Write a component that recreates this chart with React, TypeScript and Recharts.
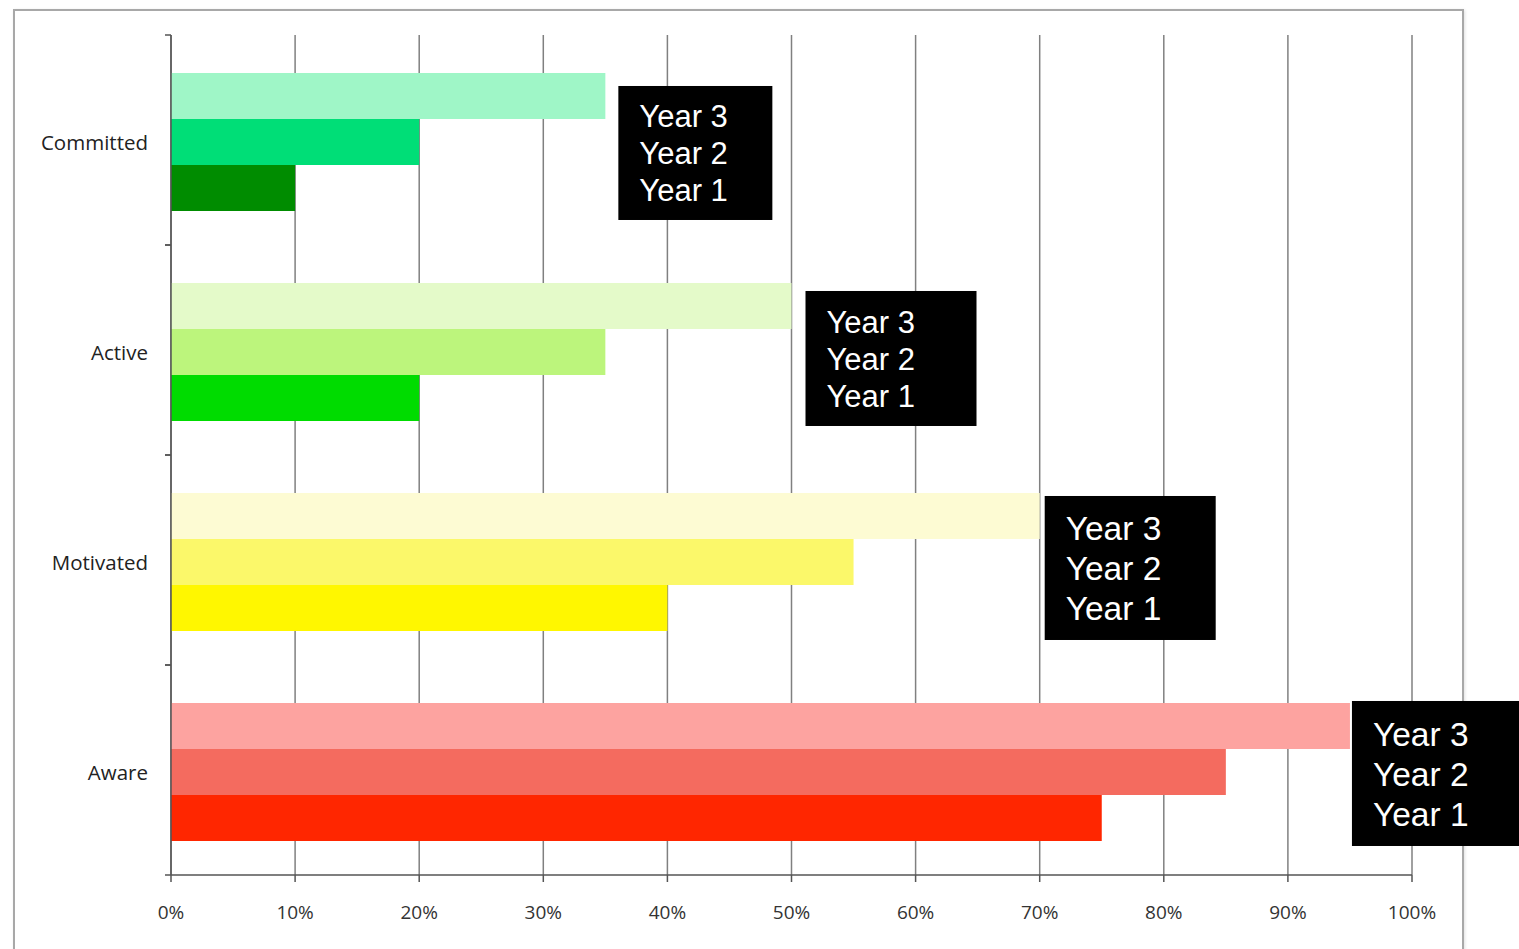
import React from "react";
import {
  Bar,
  BarChart,
  CartesianGrid,
  Cell,
  LabelList,
  Rectangle,
  XAxis,
  YAxis,
} from "recharts";

// chart data
const categories = ["Committed", "Active", "Motivated", "Aware"];
const year3 = [35, 50, 70, 95];
const year2 = [20, 35, 55, 85];
const year1 = [10, 20, 40, 75];
const legendLines = ["Year 3", "Year 2", "Year 1"];
const xTicks = [0, 10, 20, 30, 40, 50, 60, 70, 80, 90, 100];

// colours per category, one list per series
const year3Colors = ["#9ff6c7", "#e4fac9", "#fdfbd3", "#fda3a0"];
const year2Colors = ["#00de77", "#bcf57c", "#fbf86a", "#f46b5f"];
const year1Colors = ["#008c00", "#00dc00", "#fff700", "#ff2600"];

// black label boxes next to the longest bar of each group
const boxStyles = [
  { dx: 13, dy: 13, w: 154, h: 134, fs: 31, lh: 37 },
  { dx: 14, dy: 8, w: 171, h: 135, fs: 31, lh: 37 },
  { dx: 5, dy: 3, w: 171, h: 144, fs: 33.5, lh: 40 },
  { dx: 2, dy: -2, w: 170, h: 145, fs: 33.5, lh: 40 },
];

const rows = categories.map((name, i) => ({
  name,
  y3: year3[i],
  y2: year2[i],
  y1: year1[i],
}));

const Y_TICK_MARGIN = 23;
const BAR_SHIFT = 2.5;
const axisFont = "'Open Sans', Lato, sans-serif";

function CategoryTick(props: any) {
  const { x, y, payload } = props;
  const half = payload && payload.offset ? payload.offset : 105;
  const ax = x + Y_TICK_MARGIN;
  return (
    <g>
      <line x1={ax - 6} x2={ax} y1={y - half} y2={y - half} stroke="#555" strokeWidth={1.5} />
      <line x1={ax - 6} x2={ax} y1={y + half} y2={y + half} stroke="#555" strokeWidth={1.5} />
      <text x={x} y={y + 2.5} dy="0.35em" textAnchor="end" fill="#222" fontSize={20.5} fontFamily={axisFont}>
        {payload.value}
      </text>
    </g>
  );
}

function ShiftedBar(props: any) {
  return <Rectangle {...props} y={props.y + BAR_SHIFT} />;
}

function YearBox(props: any) {
  const { x, y, width, index } = props;
  const s = boxStyles[index];
  if (!s) return null;
  const bx = Number(x) + Number(width) + s.dx;
  const by = Number(y) + BAR_SHIFT + s.dy;
  const firstLine = by + (s.h - s.lh * 2) / 2;
  return (
    <g>
      <rect x={bx} y={by} width={s.w} height={s.h} fill="#000" />
      {legendLines.map((t, k) => (
        <text
          key={t}
          x={bx + 21}
          y={firstLine + k * s.lh}
          dy="0.36em"
          fill="#fff"
          fontSize={s.fs}
          fontFamily="'Liberation Sans', Arial, sans-serif"
        >
          {t}
        </text>
      ))}
    </g>
  );
}

export default function App() {
  return (
    <div
      style={{
        position: "absolute",
        left: 0,
        top: 0,
        width: 1519,
        height: 949,
        overflow: "hidden",
        background: "#fff",
      }}
    >
      <div
        style={{
          position: "absolute",
          left: 13,
          top: 9,
          width: 1447,
          height: 980,
          border: "2px solid #a8a8a8",
          boxShadow: "1px 1px 3px rgba(0,0,0,0.12)",
        }}
      />
      <div style={{ position: "absolute", left: 0, top: 0 }}>
        <BarChart
          width={1519}
          height={949}
          data={rows}
          layout="vertical"
          margin={{ top: 35, right: 107, bottom: 0, left: 0 }}
          barCategoryGap="16.9%"
          barGap={0}
        >
          <CartesianGrid horizontal={false} stroke="#808080" strokeWidth={1.5} />
          <XAxis
            type="number"
            domain={[0, 100]}
            ticks={xTicks}
            interval={0}
            tickFormatter={(v: number) => `${v}%`}
            height={74}
            tickSize={7}
            tickMargin={24}
            axisLine={{ stroke: "#555", strokeWidth: 1.5 }}
            tickLine={{ stroke: "#555", strokeWidth: 1.5 }}
            tick={{ fill: "#333", fontSize: 19, fontFamily: axisFont }}
          />
          <YAxis
            type="category"
            dataKey="name"
            width={171}
            tickLine={false}
            tickSize={0}
            tickMargin={Y_TICK_MARGIN}
            axisLine={{ stroke: "#555", strokeWidth: 1.5 }}
            tick={<CategoryTick />}
          />
          <Bar dataKey="y3" isAnimationActive={false} shape={<ShiftedBar />}>
            {rows.map((r, i) => (
              <Cell key={r.name} fill={year3Colors[i]} />
            ))}
            <LabelList dataKey="y3" content={<YearBox />} />
          </Bar>
          <Bar dataKey="y2" isAnimationActive={false} shape={<ShiftedBar />}>
            {rows.map((r, i) => (
              <Cell key={r.name} fill={year2Colors[i]} />
            ))}
          </Bar>
          <Bar dataKey="y1" isAnimationActive={false} shape={<ShiftedBar />}>
            {rows.map((r, i) => (
              <Cell key={r.name} fill={year1Colors[i]} />
            ))}
          </Bar>
        </BarChart>
      </div>
    </div>
  );
}
